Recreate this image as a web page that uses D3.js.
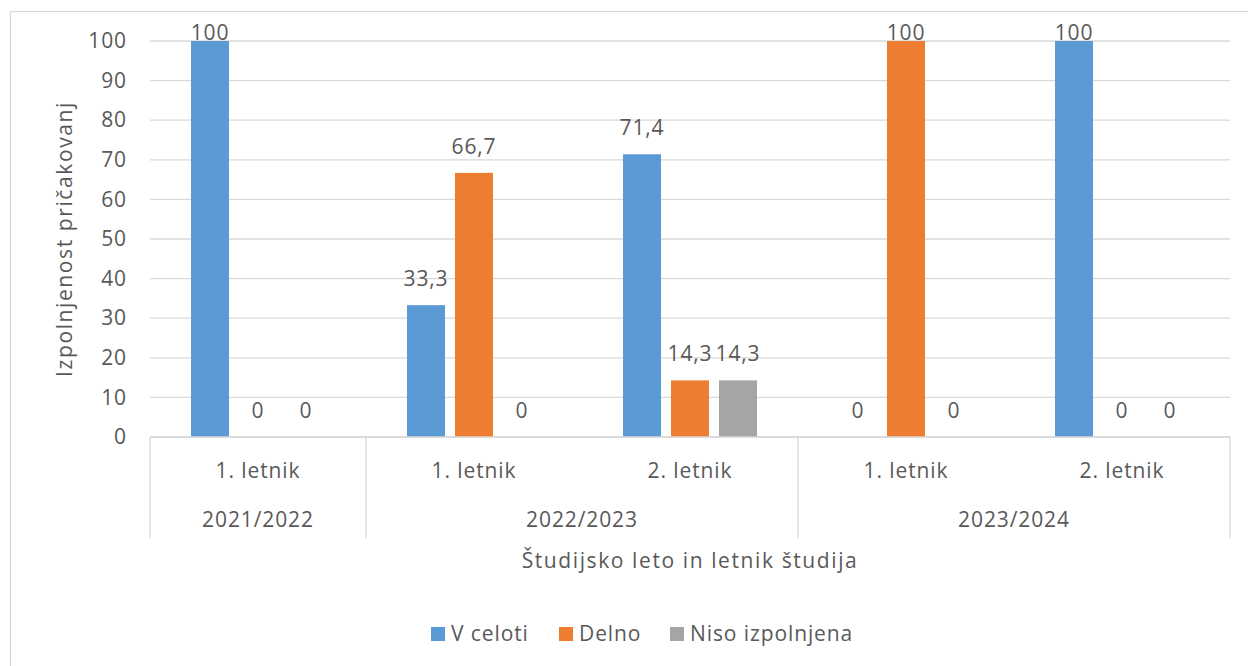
<!DOCTYPE html>
<html>
<head>
<meta charset="utf-8">
<script src="https://cdn.jsdelivr.net/npm/d3@7"></script>
<style>
  body { margin: 0; background: #fff; }
  text { font-family: "Open Sans", Lato, sans-serif; fill: #595959; letter-spacing: 0.9px; }
  .axis-title { letter-spacing: 1.6px; }
</style>
</head>
<body>
<div id="chart"></div>
<script>
// categories (two-level axis)
const letnik = ["1. letnik", "1. letnik", "2. letnik", "1. letnik", "2. letnik"];
const leto = ["2021/2022", "2022/2023", "2022/2023", "2023/2024", "2023/2024"];

// series
const seriesNames = ["V celoti", "Delno", "Niso izpolnjena"];
const vCeloti = [100, 33.3, 71.4, 0, 100];
const delno = [0, 66.7, 14.3, 100, 0];
const nisoIzpolnjena = [0, 0, 14.3, 0, 0];

const yTicks = [0, 10, 20, 30, 40, 50, 60, 70, 80, 90, 100];

const seriesValues = [vCeloti, delno, nisoIzpolnjena];
const colors = ["#5B9BD5", "#ED7D31", "#A5A5A5"];

var W = 1248, H = 666;
var margin = {top: 41, right: 18, bottom: 229, left: 150},
    width = W - margin.left - margin.right,
    height = H - margin.top - margin.bottom;

const locale = d3.formatLocale({decimal: ",", thousands: ".", grouping: [3], currency: ["", "€"]});
const fmt = v => Number.isInteger(v) ? String(v) : locale.format(".1f")(v);

var root = d3.select("#chart").append("svg")
    .attr("width", W)
    .attr("height", H);

// chart frame
root.append("rect")
    .attr("x", 10.5).attr("y", 11.5)
    .attr("width", 1260).attr("height", 680)
    .attr("fill", "none")
    .attr("stroke", "#D9D9D9")
    .attr("stroke-width", 1.3);

var svg = root.append("g")
    .attr("transform", "translate(" + margin.left + "," + margin.top + ")");

const keys = letnik.map((d, i) => i);
var x0 = d3.scaleBand().domain(keys).range([0, width]).padding(0);
const step = 48, bw = 38;
var x1 = d3.scaleBand()
    .domain(seriesNames)
    .range([0, x0.bandwidth()])
    .paddingInner((step - bw) / step)
    .paddingOuter((x0.bandwidth() / step - 3 + (step - bw) / step) / 2);

var y = d3.scaleLinear().domain([0, 100]).range([height, 0]);

// gridlines
svg.append("g")
    .selectAll("line")
    .data(yTicks)
    .enter().append("line")
    .attr("x1", 0).attr("x2", width)
    .attr("y1", d => y(d)).attr("y2", d => y(d))
    .attr("stroke", "#D9D9D9")
    .attr("stroke-width", 1.3);

// y axis labels
var yAxis = svg.append("g")
    .call(d3.axisLeft(y).tickValues(yTicks).tickSize(0).tickPadding(23));
yAxis.select(".domain").remove();
yAxis.selectAll("text")
    .style("font-size", "21px")
    .style("font-family", "'Open Sans', sans-serif")
    .attr("fill", "#595959");

// bars
const rows = [];
keys.forEach(k => seriesNames.forEach((s, j) => rows.push({k: k, s: s, j: j, v: seriesValues[j][k]})));

svg.append("g")
    .selectAll("rect")
    .data(rows)
    .enter().append("rect")
    .attr("x", d => x0(d.k) + x1(d.s))
    .attr("y", d => y(d.v))
    .attr("width", x1.bandwidth())
    .attr("height", d => height - y(d.v))
    .attr("fill", d => colors[d.j]);

// data labels
svg.append("g")
    .selectAll("text")
    .data(rows)
    .enter().append("text")
    .attr("x", d => x0(d.k) + x1(d.s) + x1.bandwidth() / 2)
    .attr("y", d => Math.max(y(d.v) - 19, y(100) - 1))
    .attr("text-anchor", "middle")
    .style("font-size", "21px")
    .text(d => fmt(d.v));

// category axis
var cat = svg.append("g").attr("transform", "translate(0," + height + ")");
cat.append("line")
    .attr("x1", 0).attr("x2", width)
    .attr("stroke", "#D9D9D9").attr("stroke-width", 1.3);

cat.selectAll(".inner")
    .data(keys)
    .enter().append("text")
    .attr("x", d => x0(d) + x0.bandwidth() / 2)
    .attr("y", 41)
    .attr("text-anchor", "middle")
    .style("font-size", "21px")
    .text(d => letnik[d]);

// group years
const groups = [];
leto.forEach((g, i) => {
    if (groups.length && groups[groups.length - 1].name === g) groups[groups.length - 1].end = i;
    else groups.push({name: g, start: i, end: i});
});

cat.selectAll(".outer")
    .data(groups)
    .enter().append("text")
    .attr("x", d => (x0(d.start) + x0(d.end) + x0.bandwidth()) / 2)
    .attr("y", 90)
    .attr("text-anchor", "middle")
    .style("font-size", "21px")
    .text(d => d.name);

const seps = [0].concat(groups.map(g => x0(g.end) + x0.bandwidth()));
cat.selectAll(".sep")
    .data(seps)
    .enter().append("line")
    .attr("x1", d => d).attr("x2", d => d)
    .attr("y1", 0).attr("y2", 101)
    .attr("stroke", "#D9D9D9").attr("stroke-width", 1.3);

// axis titles
svg.append("text")
    .attr("class", "axis-title")
    .attr("text-anchor", "middle")
    .attr("transform", "translate(" + (width / 2) + "," + (height + 131) + ")")
    .style("font-size", "21px")
    .text("Študijsko leto in letnik študija");

svg.append("text")
    .attr("class", "axis-title")
    .attr("text-anchor", "middle")
    .attr("transform", "translate(" + (-78) + "," + (height / 2) + ") rotate(-90)")
    .style("font-size", "21px")
    .text("Izpolnjenost pričakovanj");

// legend
const legendX = [431, 559, 670];
var legend = root.append("g");
seriesNames.forEach((s, j) => {
    var g = legend.append("g").attr("transform", "translate(" + legendX[j] + ",627)");
    g.append("rect").attr("width", 14).attr("height", 14).attr("fill", colors[j]);
    g.append("text").attr("x", 20).attr("y", 14).style("font-size", "21px").text(s);
});
</script>
</body>
</html>
